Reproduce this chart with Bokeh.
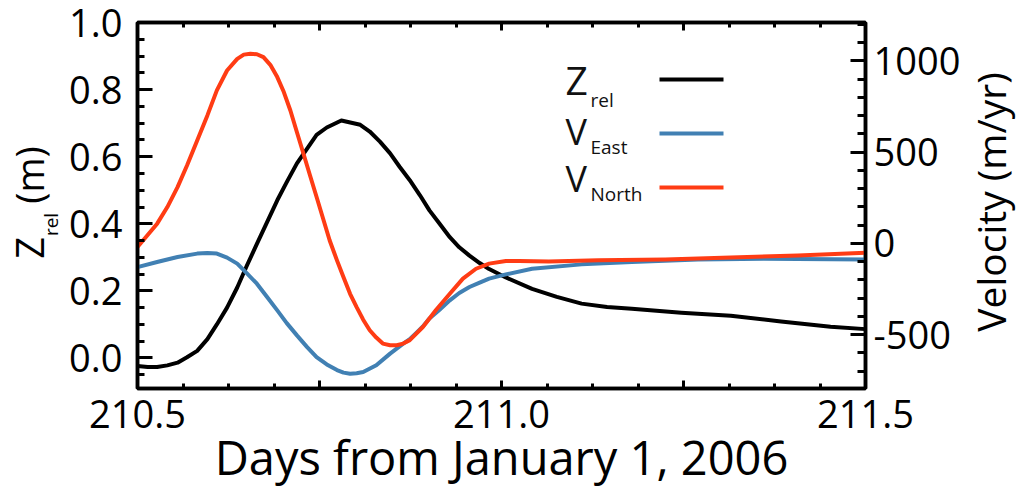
import math
from bokeh.plotting import figure
from bokeh.models import (Range1d, LinearAxis, FixedTicker, Label, BoxAnnotation,
                          NumeralTickFormatter)
from bokeh.layouts import row
from bokeh.core.properties import value
from bokeh.embed import file_html
from bokeh.resources import INLINE

FONT = "Open Sans"

# ---- data ----
T_Z = [210.500, 210.514, 210.527, 210.541, 210.555, 210.568, 210.582, 210.596,
       210.609, 210.623, 210.637, 210.650, 210.664, 210.678, 210.692, 210.705,
       210.719, 210.733, 210.746, 210.760, 210.780, 210.806, 210.819, 210.833,
       210.847, 210.860, 210.874, 210.888, 210.901, 210.915, 210.929, 210.942,
       210.956, 210.970, 210.983, 211.006, 211.042, 211.076, 211.110, 211.145,
       211.179, 211.247, 211.315, 211.384, 211.452, 211.500]
Z_REL = [-0.024, -0.027, -0.027, -0.022, -0.014, 0.002, 0.021, 0.056,
         0.100, 0.150, 0.210, 0.274, 0.340, 0.405, 0.470, 0.524,
         0.580, 0.624, 0.665, 0.687, 0.708, 0.695, 0.675, 0.645,
         0.610, 0.570, 0.530, 0.485, 0.440, 0.400, 0.360, 0.330,
         0.305, 0.283, 0.265, 0.240, 0.206, 0.182, 0.162, 0.152,
         0.147, 0.135, 0.126, 0.109, 0.093, 0.086]

T_EAST = [210.500, 210.527, 210.555, 210.582, 210.596, 210.609, 210.623, 210.637,
          210.650, 210.664, 210.678, 210.692, 210.705, 210.719, 210.733, 210.746,
          210.760, 210.774, 210.783, 210.792, 210.801, 210.810, 210.828, 210.847,
          210.856, 210.865, 210.874, 210.883, 210.892, 210.901, 210.915, 210.929,
          210.942, 210.956, 210.970, 210.983, 211.006, 211.042, 211.110, 211.179,
          211.270, 211.360, 211.500]
V_EAST = [-130, -102, -75, -56, -53, -56, -78, -111,
          -163, -221, -294, -367, -437, -504, -568, -623,
          -663, -694, -708, -714, -711, -705, -668, -604,
          -577, -549, -525, -490, -455, -412, -363, -312,
          -272, -239, -215, -193, -170, -139, -115, -102,
          -89, -84, -89]

T_NORTH = [210.500, 210.527, 210.541, 210.555, 210.568, 210.582, 210.596, 210.609,
           210.623, 210.637, 210.646, 210.655, 210.664, 210.673, 210.683, 210.692,
           210.701, 210.710, 210.719, 210.728, 210.737, 210.746, 210.755, 210.764,
           210.774, 210.783, 210.792, 210.801, 210.810, 210.819, 210.828, 210.837,
           210.847, 210.856, 210.865, 210.874, 210.892, 210.910, 210.929, 210.947,
           210.965, 210.983, 211.006, 211.024, 211.065, 211.133, 211.225, 211.315,
           211.407, 211.500]
V_NORTH = [-20, 108, 199, 308, 427, 564, 701, 838,
           947, 1011, 1034, 1039, 1036, 1020, 975, 911,
           829, 728, 609, 491, 372, 254, 135, 16,
           -93, -185, -276, -349, -418, -476, -516, -549,
           -558, -558, -549, -530, -458, -365, -276, -193,
           -139, -111, -97, -97, -99, -93, -88, -78,
           -66, -51]

X_TICKS = [210.5, 210.75, 211.0, 211.25, 211.5]
X_TICK_LABELS = ["210.5", "", "211.0", "", "211.5"]
X_MINOR = [210.5 + i * 0.0625 for i in range(17)]

Z_TICKS = [0.0, 0.2, 0.4, 0.6, 0.8, 1.0]
Z_TICK_LABELS = ["0.0", "0.2", "0.4", "0.6", "0.8", "1.0"]
Z_MINOR = [round(-0.05 + 0.05 * i, 2) for i in range(22)]

V_TICKS = [-500, 0, 500, 1000]
V_TICK_LABELS = ["-500", "0", "500", "1000"]
V_MINOR = list(range(-700, 1300, 100))

SERIES_COLORS = {"z": "black", "east": "#4180b3", "north": "#ff3c14"}

# ---- layout geometry (page pixels) ----
TOTAL_W, TOTAL_H = 1017, 491
FRAME_L, FRAME_R, FRAME_T, FRAME_B = 137, 868, 22, 388
LEFT_W, RIGHT_X = 64, 963
MAIN_W = RIGHT_X - LEFT_W
RIGHT_W = TOTAL_W - RIGHT_X
MID = 0.39  # baseline -> vertical middle of the text box, in em


def side(w):
    # its frame is aligned by the row layout to the main frame (FRAME_T..FRAME_B);
    # y data = -page y, x data = pixels from the side figure's left edge
    f = figure(width=w, height=TOTAL_H, x_range=Range1d(0, w),
               y_range=Range1d(-FRAME_B, -FRAME_T),
               output_backend="svg", toolbar_location=None, min_border=0,
               x_axis_location=None, y_axis_location=None)
    f.outline_line_color = None
    f.xgrid.visible = False
    f.ygrid.visible = False
    f.background_fill_color = "white"
    f.border_fill_color = "white"
    return f


# ---- main figure ----
p = figure(width=MAIN_W, height=TOTAL_H,
           x_range=Range1d(210.5, 211.5), y_range=Range1d(-0.091, 1.0),
           output_backend="svg", toolbar_location=None,
           min_border_left=FRAME_L - LEFT_W, min_border_right=RIGHT_X - FRAME_R,
           min_border_top=FRAME_T, min_border_bottom=TOTAL_H - FRAME_B)
p.extra_y_ranges = {"vel": Range1d(-795, 1210)}
p.xgrid.visible = False
p.ygrid.visible = False
p.outline_line_color = "black"
p.outline_line_width = 3.5
p.background_fill_color = "white"
p.border_fill_color = "white"


def style_axis(ax, major_in, minor_in, font_size, standoff):
    ax.axis_line_color = "black"
    ax.axis_line_width = 3.5
    ax.major_tick_line_color = "black"
    ax.minor_tick_line_color = "black"
    ax.major_tick_line_width = 3
    ax.minor_tick_line_width = 3
    ax.major_tick_in = major_in
    ax.major_tick_out = 0
    ax.minor_tick_in = minor_in
    ax.minor_tick_out = 0
    ax.major_label_text_font = FONT
    ax.major_label_text_font_size = font_size
    ax.major_label_text_color = "black"
    ax.major_label_standoff = standoff


xa = p.xaxis[0]
xa.ticker = FixedTicker(ticks=X_TICKS, minor_ticks=X_MINOR)
xa.formatter = NumeralTickFormatter(format="0.0")
xa.major_label_overrides = dict(zip(X_TICKS, X_TICK_LABELS))
style_axis(xa, 8, 5, "38px", 11)
xa.axis_label = "Days from January 1, 2006"
xa.axis_label_text_font = FONT
xa.axis_label_text_font_size = "47px"
xa.axis_label_text_font_style = "normal"
xa.axis_label_text_color = "black"
xa.axis_label_standoff = -6

xt = LinearAxis(ticker=FixedTicker(ticks=X_TICKS, minor_ticks=X_MINOR))
style_axis(xt, 8, 5, "0px", 0)
xt.major_label_overrides = {t: "" for t in X_TICKS}
p.add_layout(xt, "above")

ya = p.yaxis[0]
ya.ticker = FixedTicker(ticks=Z_TICKS, minor_ticks=Z_MINOR)
ya.formatter = NumeralTickFormatter(format="0.0")
ya.major_label_overrides = dict(zip(Z_TICKS, Z_TICK_LABELS))
style_axis(ya, 15, 7, "38px", 15)

yr = LinearAxis(y_range_name="vel",
                ticker=FixedTicker(ticks=V_TICKS, minor_ticks=V_MINOR))
yr.major_label_overrides = dict(zip(V_TICKS, V_TICK_LABELS))
style_axis(yr, 15, 8, "38px", 8)
p.add_layout(yr, "right")

p.line(T_Z, Z_REL, line_color=SERIES_COLORS["z"], line_width=4, line_join="round")
p.line(T_EAST, V_EAST, line_color=SERIES_COLORS["east"], line_width=4,
       line_join="round", y_range_name="vel")
p.line(T_NORTH, V_NORTH, line_color=SERIES_COLORS["north"], line_width=4,
       line_join="round", y_range_name="vel")


# ---- legend (screen units relative to the frame's bottom-left) ----
def lab(text, x, base, size_px, color="#111111"):
    p.add_layout(Label(text=text, x=x, y=base + MID * size_px,
                       x_units="screen", y_units="screen",
                       text_font=FONT, text_font_size=f"{size_px}px",
                       text_align="left", text_baseline="middle",
                       text_color=color))


LEGEND = [("Z", "rel", "z", 294, 39, 281),
          ("V", "East", "east", 243, 36, 234),
          ("V", "North", "north", 196, 36, 187)]
for main, sub, key, base, size, sub_base in LEGEND:
    lab(main, 428, base, size)
    lab(sub, 453, sub_base, 19)
SWATCH_Y = {"z": 309, "east": 255, "north": 201}
for key, cy in SWATCH_Y.items():
    p.add_layout(BoxAnnotation(left=522, right=586, bottom=cy - 2, top=cy + 2,
                               left_units="screen", right_units="screen",
                               bottom_units="screen", top_units="screen",
                               fill_color=SERIES_COLORS[key], fill_alpha=1.0,
                               line_alpha=0))


def vtext(fig, text, cx, cy, size_px):
    fig.text(x=[cx], y=[-cy], text=[text], angle=math.pi / 2,
             text_font=value(FONT), text_font_size=f"{size_px}px",
             text_align="center", text_baseline="middle", text_color="black")


# ---- left axis title: Z_rel (m) ----
lf = side(LEFT_W)
vtext(lf, "Z", 43 - MID * 38, 247.5, 38)
vtext(lf, "rel", 58 - MID * 19, 224, 19)
vtext(lf, "(m)", 43 - MID * 38, 174.5, 38)

# ---- right axis title ----
rf = side(RIGHT_W)
vtext(rf, "Velocity (m/yr)", 1005 - MID * 39 - RIGHT_X, 201.5, 39)

layout = row(lf, p, rf)
open("out.html", "w").write(file_html(layout, INLINE))
